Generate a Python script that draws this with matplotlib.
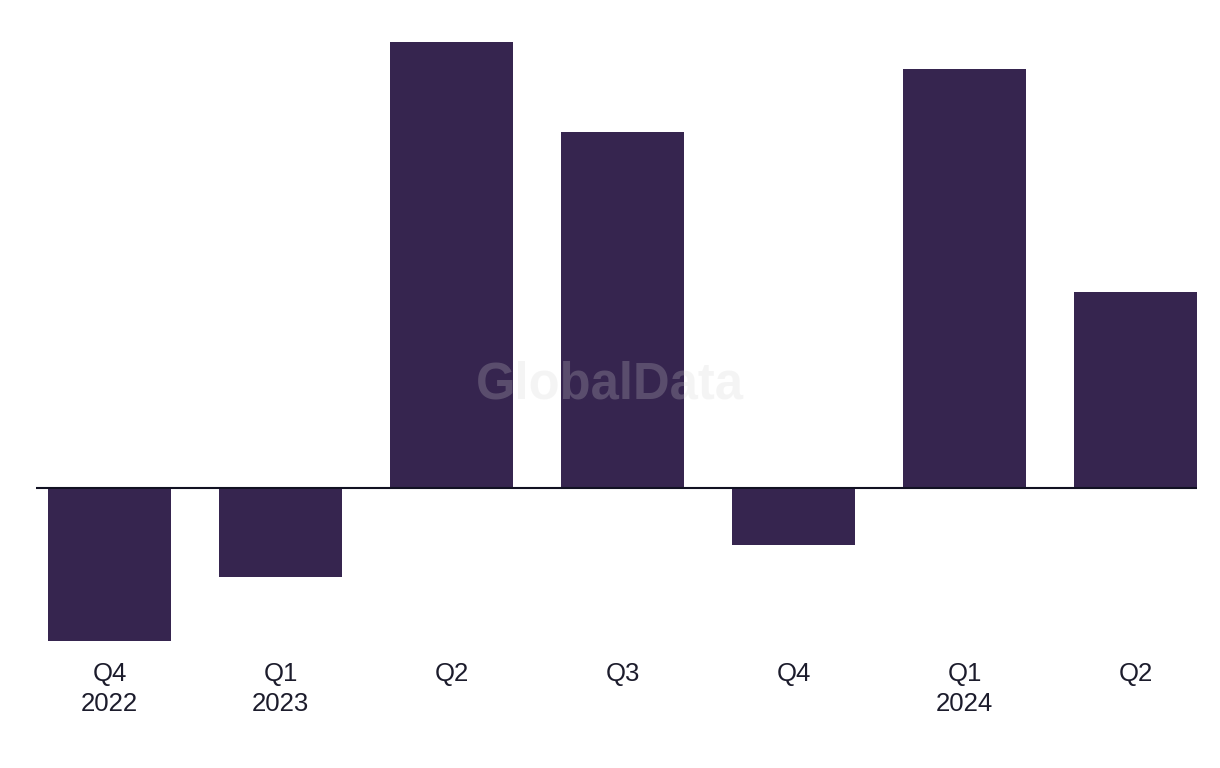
import matplotlib.pyplot as plt

quarters = ["Q4\n2022", "Q1\n2023", "Q2", "Q3", "Q4", "Q1\n2024", "Q2"]
values = [-1.53, -0.89, 4.46, 3.56, -0.57, 4.19, 1.96]

bar_color = "#36254f"
text_color = "#1c1c2c"

plt.rcParams["font.family"] = ["Liberation Sans", "DejaVu Sans"]

fig = plt.figure(figsize=(12.2, 7.68), dpi=100)
ax = fig.add_axes([36 / 1220, (768 - 641) / 768, (1197 - 36) / 1220, (641 - 42) / 768])

x = list(range(len(quarters)))
ax.bar(x, values, width=0.72, color=bar_color, zorder=2)
ax.axhline(0, color="#111122", linewidth=1.5, zorder=3)

ax.set_xlim(-0.43, 6.36)
ax.set_ylim(-1.53, 4.46)

ax.set_xticks(x)
ax.set_xticklabels(quarters, fontsize=18.5, color=text_color, linespacing=1.32)
ax.tick_params(axis="x", length=0, pad=15)
ax.set_yticks([])
for s in ax.spines.values():
    s.set_visible(False)

# watermark
fig.text(0.5, (768 - 385) / 768, "GlobalData", ha="center", va="center", fontsize=36.5,
         fontweight="bold", color="#d3d3d3", alpha=0.23, zorder=10)

fig.savefig("out.png", dpi=100)
